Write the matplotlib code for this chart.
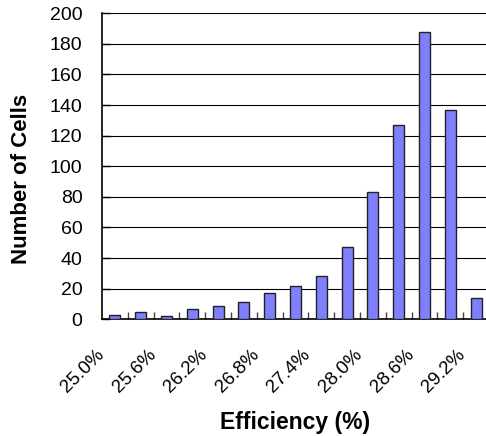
import numpy as np
import matplotlib.pyplot as plt
from matplotlib.transforms import offset_copy

plt.rcParams['font.family'] = ['Liberation Sans', 'DejaVu Sans']

efficiency = [25.0, 25.3, 25.6, 25.9, 26.2, 26.5, 26.8, 27.1, 27.4,
              27.7, 28.0, 28.3, 28.6, 28.9, 29.2]
counts = [3, 5, 2, 7, 9, 11, 17, 22, 28, 47, 83, 127, 188, 137, 14]
y_ticks = [0, 20, 40, 60, 80, 100, 120, 140, 160, 180, 200]

fig = plt.figure(figsize=(4.86, 4.36), dpi=100)
ax = fig.add_axes([102/486, 1 - 319.3/436, 387/486, 306/436])

x = np.arange(len(counts))
ax.bar(x, counts, width=0.42, color='#8080FF', edgecolor='#222222', linewidth=1.0, zorder=3)

ax.set_xlim(-0.5, len(counts) - 0.5)
ax.set_ylim(0, 200)
ax.set_yticks(y_ticks)
ax.yaxis.grid(True, color='black', linewidth=0.8, zorder=0)
ax.set_axisbelow(True)

# tick marks sit between categories, labels drawn separately
ax.set_xticks(np.arange(len(counts) - 1) + 0.5)
ax.set_xticklabels([])
ax.tick_params(axis='x', direction='in', length=5, width=1, color='#444444')
ax.tick_params(axis='y', direction='in', length=6, width=1, labelsize=14, pad=14)

trans = offset_copy(ax.transData, fig=fig, x=-14, y=-19.5, units='points')
for i, e in enumerate(efficiency):
    if i % 2 == 0:
        ax.text(i, 0, f'{e:.1f}%', transform=trans, rotation=45,
                rotation_mode='anchor', ha='right', va='top', fontsize=13.5)

ax.spines['right'].set_visible(False)
ax.spines['top'].set_visible(False)
for s in ['left', 'bottom']:
    ax.spines[s].set_linewidth(1.2)

ax.set_ylabel('Number of Cells', fontsize=16, fontweight='bold')
ax.yaxis.set_label_coords(-0.207, 0.46)
ax.yaxis.label.set_va('center')
ax.set_xlabel('Efficiency (%)', fontsize=16.5, fontweight='bold')
ax.xaxis.set_label_coords(0.5, -0.3585)
ax.xaxis.label.set_va('baseline')

fig.savefig('out.png', dpi=100)
